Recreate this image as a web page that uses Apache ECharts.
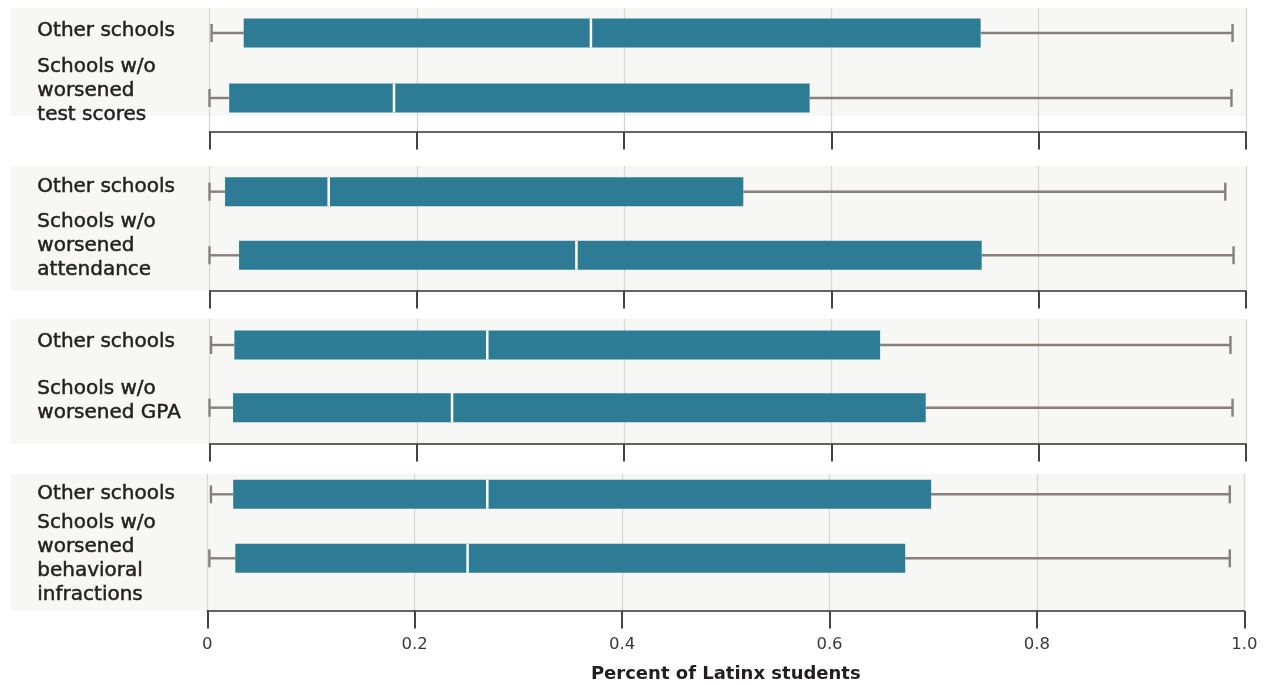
<!DOCTYPE html>
<html>
<head>
<meta charset="utf-8">
<script src="https://cdn.jsdelivr.net/npm/echarts@6/dist/echarts.min.js"></script>
<style>
html,body{margin:0;padding:0;background:#fff;}
#chart{width:1265px;height:686px;}
</style>
</head>
<body>
<div id="chart"></div>
<script>
// ---- data ----
const groupLabels = ['Other schools', 'Schools w/o'];
const outcomeLabels = [
  'Schools w/o\nworsened\ntest scores',
  'Schools w/o\nworsened\nattendance',
  'Schools w/o\nworsened GPA',
  'Schools w/o\nworsened\nbehavioral\ninfractions'
];
// [min, q1, median, q3, max]
const testScoresOther = [0.002, 0.033, 0.368, 0.744, 0.987];
const testScoresWithout = [0.000, 0.019, 0.178, 0.579, 0.986];
const attendanceOther = [0.000, 0.015, 0.115, 0.515, 0.980];
const attendanceWithout = [0.000, 0.0285, 0.354, 0.745, 0.988];
const gpaOther = [0.0015, 0.024, 0.268, 0.647, 0.985];
const gpaWithout = [0.000, 0.0227, 0.234, 0.691, 0.987];
const behaviorOther = [0.0035, 0.025, 0.270, 0.698, 0.986];
const behaviorWithout = [0.002, 0.027, 0.251, 0.673, 0.986];
const xTicks = [0, 0.2, 0.4, 0.6, 0.8, 1.0];
const axisTitle = 'Percent of Latinx students';

const panels = [
  [testScoresOther, testScoresWithout],
  [attendanceOther, attendanceWithout],
  [gpaOther, gpaWithout],
  [behaviorOther, behaviorWithout]
];

// ---- layout (styles only) ----
const axisGrids = [
  {left: 209.5, right: 19, top: 8, height: 124},
  {left: 209.5, right: 19, top: 166, height: 125},
  {left: 209.5, right: 19, top: 319, height: 125},
  {left: 207.3, right: 20.7, top: 474, height: 137}
];
const dataGrids = [
  {left: 209.5, right: 19, top: 0.5, height: 130},
  {left: 209.5, right: 19, top: 159.9, height: 127.2},
  {left: 209.5, right: 19, top: 313.65, height: 125.4},
  {left: 207.3, right: 20.7, top: 462.3, height: 128}
];
// extra upward shift (px) of each label block relative to its box
const labelShift = [[2, 7], [5, 10], [3.5, 7], [1, 0]];
const bgRects = [
  {x: 11, y: 8, width: 1235, height: 108},
  {x: 11, y: 166, width: 1235, height: 125},
  {x: 11, y: 319, width: 1235, height: 125},
  {x: 11, y: 474, width: 1233, height: 137}
];

const BOX_COLOR = '#2e7b96';
const WHISKER_COLOR = '#877f7a';
const TEXT_COLOR = '#231f20';
const FONT = 'DejaVu Sans';

function renderBox(params, api) {
  const yi = api.value(0);
  const pMin = api.coord([api.value(1), yi]);
  const pQ1 = api.coord([api.value(2), yi]);
  const pMed = api.coord([api.value(3), yi]);
  const pQ3 = api.coord([api.value(4), yi]);
  const pMax = api.coord([api.value(5), yi]);
  const y = pMin[1];
  const bh = 29, ch = 18;
  const ws = {stroke: WHISKER_COLOR, lineWidth: 2.4};
  return {
    type: 'group',
    children: [
      {type: 'line', shape: {x1: pMin[0], y1: y, x2: pQ1[0], y2: y}, style: ws},
      {type: 'line', shape: {x1: pQ3[0], y1: y, x2: pMax[0], y2: y}, style: ws},
      {type: 'line', shape: {x1: pMin[0], y1: y - ch / 2, x2: pMin[0], y2: y + ch / 2}, style: ws},
      {type: 'line', shape: {x1: pMax[0], y1: y - ch / 2, x2: pMax[0], y2: y + ch / 2}, style: ws},
      {type: 'rect', shape: {x: pQ1[0], y: y - bh / 2, width: pQ3[0] - pQ1[0], height: bh}, style: {fill: BOX_COLOR}},
      {type: 'line', shape: {x1: pMed[0], y1: y - bh / 2, x2: pMed[0], y2: y + bh / 2}, style: {stroke: '#ffffff', lineWidth: 2.5}}
    ]
  };
}

const grid = [];
const xAxis = [];
const yAxis = [];
const series = [];

axisGrids.forEach((g, i) => {
  grid.push(Object.assign({containLabel: false, outerBoundsMode: 'none'}, g));
  const last = i === 3;
  xAxis.push({
    type: 'value', gridIndex: i, min: 0, max: 1, interval: 0.2,
    axisLine: {show: true, onZero: false, lineStyle: {color: '#333333', width: 1.5}},
    axisTick: {show: true, length: 17.5, lineStyle: {color: '#444444', width: 2}},
    splitLine: {show: true, lineStyle: {color: '#d6d6d3', width: 1.3}},
    axisLabel: {
      show: last, margin: 25, color: '#3a3a3a', fontFamily: FONT, fontSize: 16.5,
      verticalAlign: 'top',
      customValues: xTicks,
      formatter: v => (v === 0 ? '0' : v.toFixed(1))
    },
    name: last ? axisTitle : '',
    nameLocation: 'middle', nameGap: 54,
    nameTextStyle: {color: TEXT_COLOR, fontFamily: FONT, fontSize: 18, fontWeight: 'bold', verticalAlign: 'top'}
  });
  yAxis.push({type: 'value', gridIndex: i, min: 0, max: 1, show: false});
});

const textStyle = {
  color: TEXT_COLOR, fontFamily: FONT, fontSize: 20, lineHeight: 24,
  textBorderColor: TEXT_COLOR, textBorderWidth: 0.5, align: 'left'
};

dataGrids.forEach((g, i) => {
  const gi = i + 4;
  grid.push(Object.assign({containLabel: false, outerBoundsMode: 'none'}, g));
  xAxis.push({type: 'value', gridIndex: gi, min: 0, max: 1, show: false});
  const shifts = labelShift[i];
  const rich = {t: textStyle};
  shifts.forEach((s, k) => {
    rich['s' + k] = {fontSize: 1, lineHeight: Math.max(1, 2 * s), align: 'left'};
  });
  yAxis.push({
    type: 'category', gridIndex: gi, inverse: true,
    data: [groupLabels[0], outcomeLabels[i]],
    axisLine: {show: false}, axisTick: {show: false}, splitLine: {show: false},
    axisLabel: Object.assign({
      interval: 0, hideOverlap: false, margin: g.left - 37.3, verticalAlign: 'middle',
      rich: rich,
      formatter: (value, index) => {
        const body = String(value).split('\n').map(l => '{t|' + l + '}').join('\n');
        return shifts[index] > 0 ? body + '\n{s' + index + '| }' : body;
      }
    }, textStyle)
  });
  series.push({
    type: 'custom', xAxisIndex: gi, yAxisIndex: gi,
    renderItem: renderBox,
    encode: {x: [1, 2, 3, 4, 5], y: 0},
    data: panels[i].map((s, k) => [k].concat(s)),
    silent: true, z: 5
  });
});

const chart = echarts.init(document.getElementById('chart'), null, {renderer: 'canvas'});
chart.setOption({
  animation: false,
  backgroundColor: '#ffffff',
  graphic: {
    elements: bgRects.map(r => ({type: 'rect', shape: r, style: {fill: '#f7f7f5'}, z: -10, silent: true}))
  },
  grid, xAxis, yAxis, series
});
</script>
</body>
</html>
